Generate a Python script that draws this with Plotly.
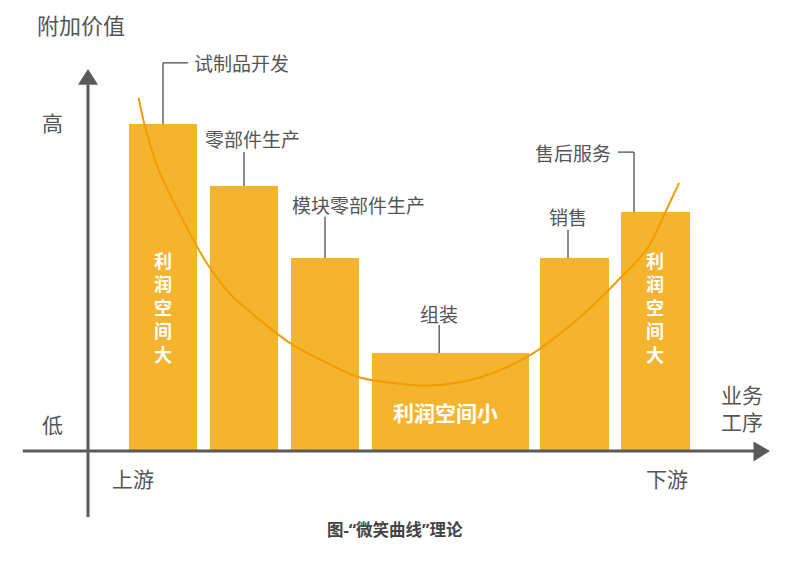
import plotly.graph_objects as go

# ---- data ----
stages = ["试制品开发", "零部件生产", "模块零部件生产", "组装", "销售", "售后服务"]
stage_order = [1, 2, 3, 4.55, 6.08, 7.08]       # 业务工序 (上游 -> 下游)
stage_span = [0.84, 0.84, 0.84, 1.94, 0.84, 0.84]
value_added = [100, 81, 59, 30, 59, 73]        # 附加价值

# 微笑曲线
curve_x = [0.70, 0.77, 0.93, 1.30, 1.54, 1.83, 2.20, 2.57, 3.02, 3.43,
           3.96, 4.30, 4.91, 5.51, 6.15, 6.65, 6.98, 7.22, 7.37]
curve_y = [108, 100, 87, 68, 57.5, 48, 40, 33, 27, 22.5,
           20.5, 20, 22.5, 29, 41, 53, 62, 74, 82]

BAR = "#F5B42E"
CURVE = "#EE9D05"
AXIS = "#5a5a5a"
TEXT = "#555555"
FONT = "Noto Sans CJK SC"

fig = go.Figure()

fig.add_trace(go.Bar(
    x=stage_order, y=value_added, width=stage_span,
    marker=dict(color=BAR, line=dict(width=0)),
    hoverinfo="skip"
))

fig.add_trace(go.Scatter(
    x=curve_x, y=curve_y, mode="lines",
    line=dict(color=CURVE, width=2, shape="spline"),
    hoverinfo="skip"
))

shapes = []
annotations = []

# 坐标轴 + 箭头
shapes.append(dict(type="line", x0=0.074, x1=0.074, y0=-20.2, y1=112,
                   line=dict(color=AXIS, width=3)))
shapes.append(dict(type="path", path="M -0.05 112 L 0.198 112 L 0.074 116.8 Z",
                   fillcolor=AXIS, line=dict(width=0)))
shapes.append(dict(type="line", x0=-0.73, x1=8.3, y0=0, y1=0,
                   line=dict(color=AXIS, width=3)))
shapes.append(dict(type="path", path="M 8.29 2.9 L 8.29 -3.2 L 8.494 0 Z",
                   fillcolor=AXIS, line=dict(width=0)))

# 标签位置: (文字x, 文字y, 对齐, 引线x, 引线顶y, 横线终点x)
label_pos = [
    (1.36, 118.7, "left", 1.0, 118.7, 1.31),
    (2.11, 95.7, "center", 2.0, 91.4, None),
    (3.41, 75.5, "center", 3.0, 71.6, None),
    (4.41, 42.2, "center", 4.41, 38.5, None),
    (6.00, 71.6, "center", 6.0, 67.6, None),
    (6.556, 91.4, "right", 6.815, 91.4, 6.617),
]
for name, v, (tx, ty, anchor, lx, ly, hx) in zip(stages, value_added, label_pos):
    shapes.append(dict(type="line", x0=lx, x1=lx, y0=v, y1=ly,
                       line=dict(color="#666666", width=1.5)))
    if hx is not None:
        shapes.append(dict(type="line", x0=lx, x1=hx, y0=ly, y1=ly,
                           line=dict(color="#666666", width=1.5)))
    annotations.append(dict(x=tx, y=ty, text=name, showarrow=False,
                            xanchor=anchor, yanchor="middle",
                            font=dict(size=19, color=TEXT, family=FONT)))

# 柱内文字 (竖排)
for bx in (stage_order[0], stage_order[5]):
    annotations.append(dict(x=bx, y=44, text="<b>" + "<br>".join("利润空间大") + "</b>",
                            showarrow=False, xanchor="center", yanchor="middle",
                            font=dict(size=18, color="white", family=FONT)))
annotations.append(dict(x=4.49, y=12, text="<b>利润空间小</b>", showarrow=False,
                        xanchor="center", yanchor="middle",
                        font=dict(size=21, color="white", family=FONT)))

# 轴文字
axis_text = [
    (-0.01, 130.5, "附加价值", 22),
    (-0.36, 100.5, "高", 21),
    (-0.37, 8.3, "低", 21),
    (0.63, -8.3, "上游", 21),
    (7.22, -8.3, "下游", 21),
    (8.15, 17.4, "业务", 21),
    (8.15, 9.2, "工序", 21),
]
for ax_x, ax_y, t, s in axis_text:
    annotations.append(dict(x=ax_x, y=ax_y, text=t, showarrow=False,
                            xanchor="center", yanchor="middle",
                            font=dict(size=s, color=TEXT, family=FONT)))

# 图注 (引号用西文字体, 较窄)
annotations.append(dict(x=3.86, y=-23.9, text="<b>图-“微笑曲线”理论</b>", showarrow=False,
                        xanchor="center", yanchor="middle",
                        font=dict(size=16.5, color="#444444",
                                  family="Noto Sans, " + FONT)))

# 页面默认有 8px 边距, 画布缩小 8px 并相应调整范围
fig.update_layout(
    width=782, height=553,
    margin=dict(l=0, r=0, t=0, b=0),
    paper_bgcolor="white", plot_bgcolor="white",
    showlegend=False,
    xaxis=dict(range=[-0.9136, 8.7407], visible=False, fixedrange=True),
    yaxis=dict(range=[-33.64, 135.47], visible=False, fixedrange=True),
    shapes=shapes, annotations=annotations,
    bargap=0,
)

fig.write_html("out.html", config={"displayModeBar": False})
